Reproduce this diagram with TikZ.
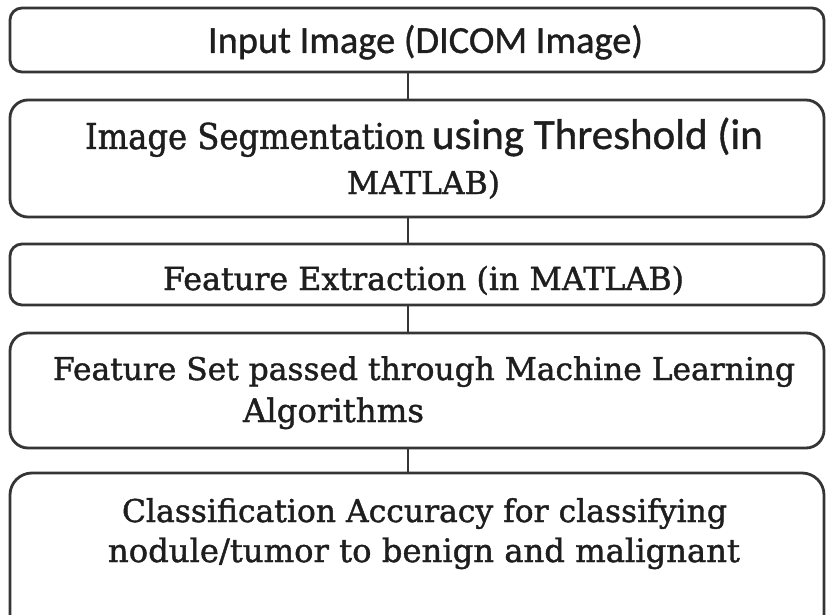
\documentclass[tikz,border=0pt]{standalone}
\usepackage{fontspec}
\usepackage{graphicx}
\setmainfont[FakeBold=1.3]{DejaVu Serif}
\newfontfamily\calfont[FakeBold=0.9]{Carlito}
\definecolor{edge}{HTML}{353535}
\definecolor{ink}{HTML}{1E1E1E}
\newcommand{\fitto}[2]{\resizebox{#1}{!}{#2}}
\newcommand{\fitcap}[3]{\resizebox{#1}{#2}{\smash{#3}\rule{0pt}{\fontcharht\font`I}}}
\begin{document}
\begin{tikzpicture}[x=1pt,y=1pt,
  box/.style={draw=edge, line width=2.8pt, fill=white},
  txt/.style={inner sep=0pt, outer sep=0pt, anchor=base west, text=ink, font=\fontsize{28}{30}\selectfont},
  link/.style={draw=edge, line width=2.8pt}]
\useasboundingbox (0,0) rectangle (827,-615);
\clip (0,0) rectangle (827,-615);
\fill[white] (0,0) rectangle (827,-615);

% boxes
\node[box, rounded corners=12pt, minimum width=814pt, minimum height=64pt]  (b1) at (417,-40) {};
\node[box, rounded corners=18pt, minimum width=814pt, minimum height=117pt] (b2) at (417,-158.5) {};
\node[box, rounded corners=12pt, minimum width=814pt, minimum height=61pt]  (b3) at (417,-274.5) {};
\node[box, rounded corners=18pt, minimum width=814pt, minimum height=115pt] (b4) at (417,-390.5) {};
\node[box, rounded corners=22pt, minimum width=814pt, minimum height=170pt] (b5) at (417,-558) {};

% connectors
\draw[link] ([xshift=-9pt]b1.south) -- ([xshift=-9pt]b2.north);
\draw[link] ([xshift=-9pt]b2.south) -- ([xshift=-9pt]b3.north);
\draw[link] ([xshift=-9pt]b3.south) -- ([xshift=-9pt]b4.north);
\draw[link] ([xshift=-9pt]b4.south) -- ([xshift=-9pt]b5.north);

% texts
\node[txt] (t1) at (208,-53) {\fitto{435pt}{\calfont Input Image (DICOM Image)}};
\node[txt] (t2a) at (85,-149) {\fitcap{340pt}{26pt}{Image Segmentation}};
\node[txt] (t2c) at (432,-149) {\fitto{331pt}{\calfont using Threshold (in}};
\node[txt] (t2b) at (347,-194) {\fitto{153pt}{MATLAB)}};
\node[txt] (t3) at (163,-290) {\fitto{521pt}{Feature Extraction (in MATLAB)}};
\node[txt] (t4a) at (53,-380) {\fitto{742pt}{Feature Set passed through Machine Learning}};
\node[txt] (t4b) at (243,-422) {\fitto{181pt}{Algorithms}};
\node[txt] (t5a) at (122,-522) {\fitto{605pt}{Classification Accuracy for classifying}};
\node[txt] (t5b) at (108,-562) {\fitto{632pt}{nodule/tumor to benign and malignant}};
\end{tikzpicture}
\end{document}
